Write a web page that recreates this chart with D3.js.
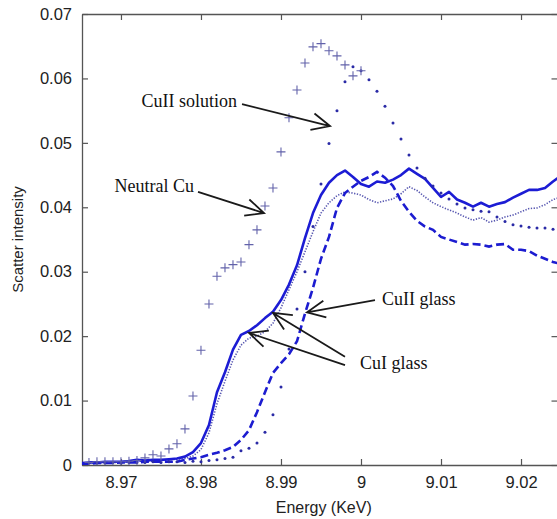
<!DOCTYPE html>
<html lang="en">
<head>
    <meta charset="UTF-8">
    <title>Cu K-edge scatter</title>
    <script src="https://cdn.jsdelivr.net/npm/d3@7/dist/d3.min.js"></script>
    <style>
        body { margin: 0; background: #fff; }
        svg { display: block; }
    </style>
</head>
<body>
    <script>
        //Width and height
        var w = 557;
        var h = 519;
        var margin = { top: 14, right: -0.5, bottom: 54, left: 82 };

        //Energy grid (KeV) shared by the line series
        var energy = [8.965, 8.966, 8.967, 8.968, 8.969, 8.970, 8.971, 8.972, 8.973, 8.974,
            8.975, 8.976, 8.977, 8.978, 8.979, 8.980, 8.981, 8.982, 8.983, 8.984,
            8.985, 8.986, 8.987, 8.988, 8.989, 8.990, 8.991, 8.992, 8.993, 8.994,
            8.995, 8.996, 8.997, 8.998, 8.999, 9.000, 9.001, 9.002, 9.003, 9.004,
            9.005, 9.006, 9.007, 9.008, 9.009, 9.010, 9.011, 9.012, 9.013, 9.014,
            9.015, 9.016, 9.017, 9.018, 9.019, 9.020, 9.021, 9.022, 9.023, 9.024, 9.025];

        //CuI glass, solid line
        var cuIGlass = [0.0003, 0.0004, 0.0004, 0.0005, 0.0005, 0.0005, 0.0006, 0.0008, 0.0007, 0.0008,
            0.0008, 0.0009, 0.0010, 0.0013, 0.0020, 0.0034, 0.0062, 0.0113, 0.0144, 0.0179,
            0.0202, 0.0208, 0.0217, 0.0228, 0.0238, 0.0256, 0.0280, 0.0310, 0.0352, 0.0391,
            0.0419, 0.0438, 0.0450, 0.0457, 0.0447, 0.0436, 0.0432, 0.0440, 0.0438, 0.0443,
            0.0450, 0.0460, 0.0452, 0.0444, 0.0430, 0.0416, 0.0424, 0.0412, 0.0407, 0.0401,
            0.0407, 0.0401, 0.0405, 0.0408, 0.0415, 0.0421, 0.0427, 0.0427, 0.0430, 0.0440, 0.0449];

        //CuI glass, second sample (dotted line)
        var cuIGlass2 = [0.0002, 0.0003, 0.0003, 0.0004, 0.0004, 0.0004, 0.0005, 0.0006, 0.0006, 0.0006,
            0.0007, 0.0008, 0.0009, 0.0010, 0.0014, 0.0024, 0.0050, 0.0095, 0.0130, 0.0163,
            0.0186, 0.0197, 0.0200, 0.0207, 0.0220, 0.0244, 0.0272, 0.0300, 0.0331, 0.0362,
            0.0391, 0.0407, 0.0418, 0.0424, 0.0422, 0.0419, 0.0412, 0.0407, 0.0410, 0.0413,
            0.0421, 0.0432, 0.0426, 0.0416, 0.0407, 0.0401, 0.0396, 0.0391, 0.0385, 0.0380,
            0.0384, 0.0377, 0.0380, 0.0385, 0.0388, 0.0393, 0.0398, 0.0399, 0.0404, 0.0412, 0.0416];

        //CuII glass, dashed line
        var cuIIGlass = [0.0002, 0.0002, 0.0003, 0.0003, 0.0003, 0.0004, 0.0004, 0.0004, 0.0005, 0.0005,
            0.0005, 0.0005, 0.0005, 0.0008, 0.0010, 0.0012, 0.0016, 0.0019, 0.0023, 0.0028,
            0.0039, 0.0054, 0.0082, 0.0113, 0.0143, 0.0158, 0.0172, 0.0192, 0.0235, 0.0275,
            0.0320, 0.0354, 0.0399, 0.0422, 0.0432, 0.0441, 0.0447, 0.0455, 0.0446, 0.0433,
            0.0410, 0.0393, 0.0379, 0.0370, 0.0365, 0.0354, 0.0350, 0.0346, 0.0342, 0.0343,
            0.0342, 0.0339, 0.0342, 0.0343, 0.0334, 0.0334, 0.0332, 0.0325, 0.0320, 0.0315, 0.0312];

        //CuII solution, small dots
        var solutionEnergy = [8.966, 8.967, 8.968, 8.969, 8.970, 8.971, 8.972, 8.973, 8.974, 8.975,
            8.976, 8.977, 8.978, 8.979, 8.980, 8.981, 8.982, 8.983, 8.984, 8.985,
            8.986, 8.987, 8.988, 8.989, 8.990, 8.991, 8.992, 8.993, 8.994, 8.995,
            8.996, 8.997, 8.998, 8.999, 9.000, 9.001, 9.002, 9.003, 9.004, 9.005,
            9.006, 9.007, 9.008, 9.009, 9.010, 9.011, 9.012, 9.013, 9.014, 9.015,
            9.016, 9.017, 9.018, 9.019, 9.020, 9.021, 9.022, 9.023, 9.024];
        var cuIISolution = [0.0003, 0.0003, 0.0003, 0.0004, 0.0003, 0.0004, 0.0004, 0.0004, 0.0005, 0.0004,
            0.0005, 0.0005, 0.0004, 0.0006, 0.0005, 0.0007, 0.0008, 0.0010, 0.0012, 0.0022,
            0.0026, 0.0034, 0.0051, 0.0078, 0.0121, 0.0180, 0.0242, 0.0300, 0.0370, 0.0436,
            0.0499, 0.0550, 0.0595, 0.0618, 0.0612, 0.0598, 0.0580, 0.0557, 0.0531, 0.0506,
            0.0481, 0.0461, 0.0445, 0.0433, 0.0422, 0.0413, 0.0405, 0.0399, 0.0396, 0.0394,
            0.0393, 0.0385, 0.0378, 0.0373, 0.0371, 0.0369, 0.0368, 0.0368, 0.0366];

        //Neutral Cu, crosses
        var neutralEnergy = [8.966, 8.967, 8.968, 8.969, 8.970, 8.971, 8.972, 8.973, 8.974, 8.975,
            8.976, 8.977, 8.978, 8.979, 8.980, 8.981, 8.982, 8.983, 8.984, 8.985,
            8.986, 8.987, 8.988, 8.989, 8.990, 8.991, 8.992, 8.993, 8.994, 8.995,
            8.996, 8.997, 8.998, 8.999, 9.000];
        var neutralCu = [0.0004, 0.0005, 0.0005, 0.0005, 0.0005, 0.0006, 0.0007, 0.0011, 0.0016, 0.0014,
            0.0025, 0.0033, 0.0056, 0.0107, 0.0178, 0.0250, 0.0293, 0.0306, 0.0311, 0.0315,
            0.0342, 0.0365, 0.0402, 0.0430, 0.0486, 0.0539, 0.0582, 0.0624, 0.0649, 0.0654,
            0.0643, 0.0635, 0.0621, 0.0604, 0.0612];

        //Ticks
        var xTicks = [8.97, 8.98, 8.99, 9.00, 9.01, 9.02];
        var xTickLabels = ["8.97", "8.98", "8.99", "9", "9.01", "9.02"];
        var yTicks = [0, 0.01, 0.02, 0.03, 0.04, 0.05, 0.06, 0.07];
        var yTickLabels = ["0", "0.01", "0.02", "0.03", "0.04", "0.05", "0.06", "0.07"];

        //Annotations: label position and arrows (data units)
        var annotations = [
            { text: "CuII solution", x: 8.98450, y: 0.0556, anchor: "end",
              arrows: [[[8.98513, 0.0560], [8.99613, 0.0526]]] },
            { text: "Neutral Cu", x: 8.97913, y: 0.0424, anchor: "end",
              arrows: [[[8.97963, 0.0424], [8.98788, 0.0391]]] },
            { text: "CuII glass", x: 9.00263, y: 0.0248, anchor: "start",
              arrows: [[[9.00175, 0.0256], [8.99325, 0.0237]]] },
            { text: "CuI glass", x: 8.99988, y: 0.0149, anchor: "start",
              arrows: [[[8.99800, 0.0168], [8.98900, 0.0236]],
                       [[8.99800, 0.0155], [8.98600, 0.0205]]] }
        ];

        var iw = w - margin.left - margin.right;
        var ih = h - margin.top - margin.bottom;

        //Scales
        var xScale = d3.scaleLinear()
            .domain([8.96513, 9.02456])
            .range([0, iw]);
        var yScale = d3.scaleLinear()
            .domain([0, 0.07])
            .range([ih, 0]);

        var svg = d3.select("body")
            .append("svg")
            .attr("width", w)
            .attr("height", h);

        svg.append("defs").append("clipPath")
            .attr("id", "plot-clip")
            .append("rect")
            .attr("width", iw)
            .attr("height", ih);

        var g = svg.append("g")
            .attr("transform", "translate(" + margin.left + "," + margin.top + ")");

        //Axes: ticks point inward on all four sides
        var axisFont = "'Liberation Sans', Arial, sans-serif";
        function styleAxis(sel) {
            sel.select(".domain").attr("stroke", "#555").attr("stroke-width", 1.3);
            sel.selectAll(".tick line").attr("stroke", "#555").attr("stroke-width", 1.2);
            sel.selectAll(".tick text")
                .attr("fill", "#222")
                .style("font-family", axisFont)
                .style("font-size", "16.5px");
        }

        g.append("g")
            .attr("transform", "translate(0," + ih + ")")
            .call(d3.axisBottom(xScale)
                .tickValues(xTicks)
                .tickFormat(function(d, i) { return xTickLabels[i]; })
                .tickSizeInner(-6).tickSizeOuter(0).tickPadding(11))
            .call(styleAxis);

        g.append("g")
            .call(d3.axisLeft(yScale)
                .tickValues(yTicks)
                .tickFormat(function(d, i) { return yTickLabels[i]; })
                .tickSizeInner(-6).tickSizeOuter(0).tickPadding(10))
            .call(styleAxis);

        g.append("g")
            .call(d3.axisTop(xScale)
                .tickValues(xTicks)
                .tickFormat("")
                .tickSizeInner(-6).tickSizeOuter(0))
            .call(styleAxis);

        g.append("g")
            .attr("transform", "translate(" + iw + ",0)")
            .call(d3.axisRight(yScale)
                .tickValues(yTicks)
                .tickFormat("")
                .tickSizeInner(-6).tickSizeOuter(0))
            .call(styleAxis);

        //Axis titles
        svg.append("text")
            .attr("x", margin.left + iw / 2 + 4)
            .attr("y", 513)
            .attr("text-anchor", "middle")
            .attr("fill", "#222")
            .style("font-family", axisFont)
            .style("font-size", "16px")
            .text("Energy (KeV)");

        svg.append("text")
            .attr("transform", "translate(23," + (margin.top + ih / 2) + ") rotate(-90)")
            .attr("text-anchor", "middle")
            .attr("fill", "#222")
            .style("font-family", axisFont)
            .style("font-size", "15px")
            .text("Scatter intensity");

        //Series
        var plot = g.append("g").attr("clip-path", "url(#plot-clip)");

        function lineFor(values) {
            return d3.line()
                .x(function(d, i) { return xScale(energy[i]); })
                .y(function(d) { return yScale(d); })(values);
        }

        plot.append("path")
            .attr("d", lineFor(cuIGlass2))
            .attr("fill", "none")
            .attr("stroke", "#5656b0")
            .attr("stroke-width", 1.6)
            .attr("stroke-dasharray", "1.3,1.5");

        plot.append("path")
            .attr("d", lineFor(cuIIGlass))
            .attr("fill", "none")
            .attr("stroke", "#1c1cd0")
            .attr("stroke-width", 2.6)
            .attr("stroke-dasharray", "8,4");

        plot.append("path")
            .attr("d", lineFor(cuIGlass))
            .attr("fill", "none")
            .attr("stroke", "#1c1cd4")
            .attr("stroke-width", 2.6)
            .attr("stroke-linejoin", "round");

        plot.selectAll("circle.sol")
            .data(cuIISolution)
            .enter()
            .append("circle")
            .attr("class", "sol")
            .attr("cx", function(d, i) { return xScale(solutionEnergy[i]); })
            .attr("cy", function(d) { return yScale(d); })
            .attr("r", 1.5)
            .attr("fill", "#2a2aa6");

        plot.selectAll("path.cross")
            .data(neutralCu)
            .enter()
            .append("path")
            .attr("class", "cross")
            .attr("transform", function(d, i) {
                return "translate(" + xScale(neutralEnergy[i]) + "," + yScale(d) + ")";
            })
            .attr("d", "M-4.5,0H4.5M0,-4.5V4.5")
            .attr("stroke", "#6262aa")
            .attr("stroke-width", 1.1)
            .attr("fill", "none");

        //Annotations
        var ann = g.append("g");
        var headLen = 20, headAngle = 25 * Math.PI / 180;

        annotations.forEach(function(a) {
            ann.append("text")
                .attr("x", xScale(a.x))
                .attr("y", yScale(a.y))
                .attr("text-anchor", a.anchor)
                .attr("fill", "#111")
                .style("font-family", "'Liberation Serif', 'Times New Roman', serif")
                .style("font-size", "18px")
                .text(a.text);

            a.arrows.forEach(function(arr) {
                var x0 = xScale(arr[0][0]), y0 = yScale(arr[0][1]);
                var x1 = xScale(arr[1][0]), y1 = yScale(arr[1][1]);
                var ang = Math.atan2(y0 - y1, x0 - x1);
                var d = "M" + x0 + "," + y0 + "L" + x1 + "," + y1 +
                    "M" + (x1 + headLen * Math.cos(ang + headAngle)) + "," + (y1 + headLen * Math.sin(ang + headAngle)) +
                    "L" + x1 + "," + y1 +
                    "L" + (x1 + headLen * Math.cos(ang - headAngle)) + "," + (y1 + headLen * Math.sin(ang - headAngle));
                ann.append("path")
                    .attr("d", d)
                    .attr("fill", "none")
                    .attr("stroke", "#1a1a1a")
                    .attr("stroke-width", 1.8);
            });
        });
    </script>
</body>
</html>
